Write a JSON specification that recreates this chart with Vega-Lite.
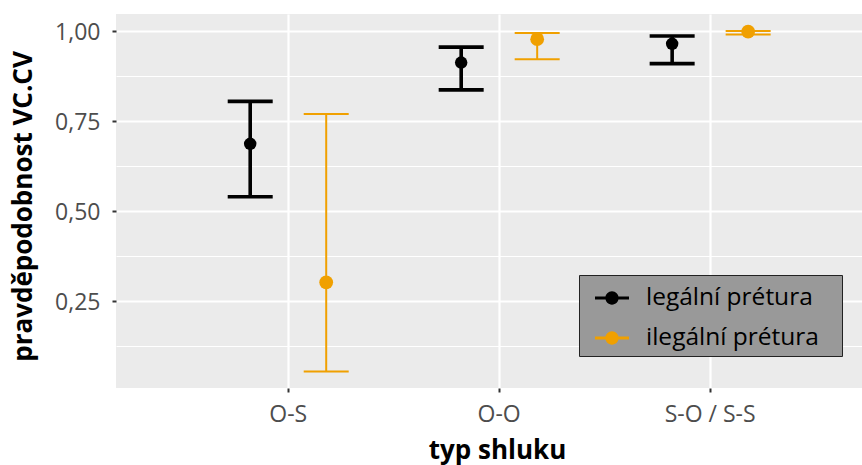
{
  "$schema": "https://vega.github.io/schema/vega-lite/v6.json",
  "autosize": {"type": "none"},
  "padding": {"left": 116, "top": 14, "right": 0, "bottom": 77},
  "width": 746,
  "height": 374,
  "background": "#FFFFFF",
  "config": {
    "font": "Open Sans",
    "view": {"fill": "#EBEBEB", "stroke": null},
    "axisY": {
      "titleFont": "Open Sans",
      "titleFontSize": 26,
      "titleFontWeight": "bold",
      "titleColor": "#000000",
      "titleAngle": -90,
      "titleX": -85,
      "titleY": 192,
      "titleAlign": "center",
      "titleBaseline": "alphabetic",
      "labelFont": "Open Sans",
      "labelFontSize": 23,
      "labelColor": "#4D4D4D",
      "labelBaseline": "alphabetic",
      "labelOffset": 8.5,
      "labelPadding": 12,
      "domain": false,
      "tickColor": "#333333",
      "tickSize": 4,
      "tickWidth": 2,
      "grid": true,
      "gridColor": "#FFFFFF",
      "gridOpacity": 1
    }
  },
  "datasets": {
    "vc": [
      {"typ": "O-S", "pretura": "legální prétura", "mean": 0.686, "lo": 0.539, "hi": 0.804},
      {"typ": "O-S", "pretura": "ilegální prétura", "mean": 0.301, "lo": 0.053, "hi": 0.769},
      {"typ": "O-O", "pretura": "legální prétura", "mean": 0.912, "lo": 0.836, "hi": 0.955},
      {"typ": "O-O", "pretura": "ilegální prétura", "mean": 0.977, "lo": 0.921, "hi": 0.994},
      {"typ": "S-O / S-S", "pretura": "legální prétura", "mean": 0.964, "lo": 0.909, "hi": 0.986},
      {"typ": "S-O / S-S", "pretura": "ilegální prétura", "mean": 0.998, "lo": 0.99, "hi": 1.0}
    ]
  },
  "data": {"name": "vc"},
  "encoding": {
    "x": {
      "field": "typ",
      "type": "nominal",
      "sort": ["O-S", "O-O", "S-O / S-S"],
      "scale": {"paddingInner": 0, "paddingOuter": 0.268, "align": 0.59},
      "axis": {
        "title": "typ shluku",
        "titleFont": "Open Sans",
        "titleFontSize": 26,
        "titleFontWeight": "bold",
        "titleColor": "#000000",
        "titleX": 381,
        "titleY": 70.5,
        "titleAlign": "center",
        "titleBaseline": "alphabetic",
        "labelAngle": 0,
        "labelFont": "Open Sans",
        "labelFontSize": 23,
        "labelColor": "#4D4D4D",
        "labelBaseline": "alphabetic",
        "labelPadding": 29,
        "bandPosition": 0.5,
        "domain": false,
        "ticks": true,
        "tickColor": "#333333",
        "tickSize": 4,
        "tickWidth": 2,
        "grid": true,
        "gridColor": "#FFFFFF",
        "gridWidth": 2.2,
        "gridOpacity": 1
      }
    },
    "xOffset": {
      "field": "pretura",
      "type": "nominal",
      "sort": ["legální prétura", "ilegální prétura"],
      "scale": {"paddingInner": 1, "paddingOuter": 0.888}
    },
    "color": {
      "field": "pretura",
      "type": "nominal",
      "sort": ["legální prétura", "ilegální prétura"],
      "scale": {
        "domain": ["legální prétura", "ilegální prétura"],
        "range": ["#000000", "#F0A000"]
      },
      "legend": {
        "title": null,
        "orient": "none",
        "legendX": 463,
        "legendY": 261,
        "fillColor": "#999999",
        "strokeColor": "#222222",
        "padding": 6,
        "symbolOffset": 10,
        "symbolType": "M-1,-0.09L1,-0.09L1,0.09L-1,0.09Z M0.39,0 A0.39,0.39 0 1 1 -0.39,0 A0.39,0.39 0 1 1 0.39,0 Z",
        "symbolSize": 1156,
        "symbolStrokeWidth": 0,
        "symbolOpacity": 1,
        "labelFont": "Open Sans",
        "labelFontSize": 24.5,
        "labelColor": "#000000",
        "labelOffset": 17,
        "labelLimit": 400,
        "labelExpr": "datum.label + '\u2002\u2006\u200b'",
        "rowPadding": 11
      }
    }
  },
  "layer": [
    {
      "transform": [{"filter": "datum.pretura == 'legální prétura'"}],
      "mark": {"type": "rule", "strokeWidth": 3.6},
      "encoding": {
        "y": {
          "field": "lo",
          "type": "quantitative",
          "title": "pravděpodobnost VC.CV",
          "scale": {"domain": [0.007, 1.047], "nice": false, "zero": false},
          "axis": {
            "title": "pravděpodobnost VC.CV",
            "values": [0.125, 0.25, 0.375, 0.5, 0.625, 0.75, 0.875, 1.0],
            "labelExpr": "round(datum.value * 8) % 2 == 1 ? '' : replace(format(datum.value, '.2f'), '.', ',')",
            "tickOpacity": {"condition": {"test": "round(datum.value * 8) % 2 == 1", "value": 0}, "value": 1},
            "gridWidth": {"condition": {"test": "round(datum.value * 8) % 2 == 1", "value": 1.1}, "value": 2.2}
          }
        },
        "y2": {"field": "hi"}
      }
    },
    {
      "transform": [{"filter": "datum.pretura == 'ilegální prétura'"}],
      "mark": {"type": "rule", "strokeWidth": 2},
      "encoding": {
        "y": {
          "field": "lo",
          "type": "quantitative",
          "title": "pravděpodobnost VC.CV",
          "scale": {"domain": [0.007, 1.047], "nice": false, "zero": false},
          "axis": {
            "title": "pravděpodobnost VC.CV",
            "values": [0.125, 0.25, 0.375, 0.5, 0.625, 0.75, 0.875, 1.0],
            "labelExpr": "round(datum.value * 8) % 2 == 1 ? '' : replace(format(datum.value, '.2f'), '.', ',')",
            "tickOpacity": {"condition": {"test": "round(datum.value * 8) % 2 == 1", "value": 0}, "value": 1},
            "gridWidth": {"condition": {"test": "round(datum.value * 8) % 2 == 1", "value": 1.1}, "value": 2.2}
          }
        },
        "y2": {"field": "hi"}
      }
    },
    {
      "transform": [
        {"filter": "datum.pretura == 'legální prétura'"},
        {"fold": ["lo", "hi"], "as": ["mez", "hodnota"]}
      ],
      "mark": {"type": "tick", "thickness": 3.6, "size": 45, "opacity": 1},
      "encoding": {
        "y": {
          "field": "hodnota",
          "type": "quantitative",
          "title": "pravděpodobnost VC.CV",
          "scale": {"domain": [0.007, 1.047], "nice": false, "zero": false},
          "axis": {
            "title": "pravděpodobnost VC.CV",
            "values": [0.125, 0.25, 0.375, 0.5, 0.625, 0.75, 0.875, 1.0],
            "labelExpr": "round(datum.value * 8) % 2 == 1 ? '' : replace(format(datum.value, '.2f'), '.', ',')",
            "tickOpacity": {"condition": {"test": "round(datum.value * 8) % 2 == 1", "value": 0}, "value": 1},
            "gridWidth": {"condition": {"test": "round(datum.value * 8) % 2 == 1", "value": 1.1}, "value": 2.2}
          }
        }
      }
    },
    {
      "transform": [
        {"filter": "datum.pretura == 'ilegální prétura'"},
        {"fold": ["lo", "hi"], "as": ["mez", "hodnota"]}
      ],
      "mark": {"type": "tick", "thickness": 2, "size": 45, "opacity": 1},
      "encoding": {
        "y": {
          "field": "hodnota",
          "type": "quantitative",
          "title": "pravděpodobnost VC.CV",
          "scale": {"domain": [0.007, 1.047], "nice": false, "zero": false},
          "axis": {
            "title": "pravděpodobnost VC.CV",
            "values": [0.125, 0.25, 0.375, 0.5, 0.625, 0.75, 0.875, 1.0],
            "labelExpr": "round(datum.value * 8) % 2 == 1 ? '' : replace(format(datum.value, '.2f'), '.', ',')",
            "tickOpacity": {"condition": {"test": "round(datum.value * 8) % 2 == 1", "value": 0}, "value": 1},
            "gridWidth": {"condition": {"test": "round(datum.value * 8) % 2 == 1", "value": 1.1}, "value": 2.2}
          }
        }
      }
    },
    {
      "transform": [{"filter": "datum.pretura == 'legální prétura'"}],
      "mark": {"type": "point", "filled": true, "opacity": 1, "strokeWidth": 0, "size": 155},
      "encoding": {
        "y": {
          "field": "mean",
          "type": "quantitative",
          "title": "pravděpodobnost VC.CV",
          "scale": {"domain": [0.007, 1.047], "nice": false, "zero": false},
          "axis": {
            "title": "pravděpodobnost VC.CV",
            "values": [0.125, 0.25, 0.375, 0.5, 0.625, 0.75, 0.875, 1.0],
            "labelExpr": "round(datum.value * 8) % 2 == 1 ? '' : replace(format(datum.value, '.2f'), '.', ',')",
            "tickOpacity": {"condition": {"test": "round(datum.value * 8) % 2 == 1", "value": 0}, "value": 1},
            "gridWidth": {"condition": {"test": "round(datum.value * 8) % 2 == 1", "value": 1.1}, "value": 2.2}
          }
        }
      }
    },
    {
      "transform": [{"filter": "datum.pretura == 'ilegální prétura'"}],
      "mark": {"type": "point", "filled": true, "opacity": 1, "strokeWidth": 0, "size": 190},
      "encoding": {
        "y": {
          "field": "mean",
          "type": "quantitative",
          "title": "pravděpodobnost VC.CV",
          "scale": {"domain": [0.007, 1.047], "nice": false, "zero": false},
          "axis": {
            "title": "pravděpodobnost VC.CV",
            "values": [0.125, 0.25, 0.375, 0.5, 0.625, 0.75, 0.875, 1.0],
            "labelExpr": "round(datum.value * 8) % 2 == 1 ? '' : replace(format(datum.value, '.2f'), '.', ',')",
            "tickOpacity": {"condition": {"test": "round(datum.value * 8) % 2 == 1", "value": 0}, "value": 1},
            "gridWidth": {"condition": {"test": "round(datum.value * 8) % 2 == 1", "value": 1.1}, "value": 2.2}
          }
        }
      }
    }
  ]
}
